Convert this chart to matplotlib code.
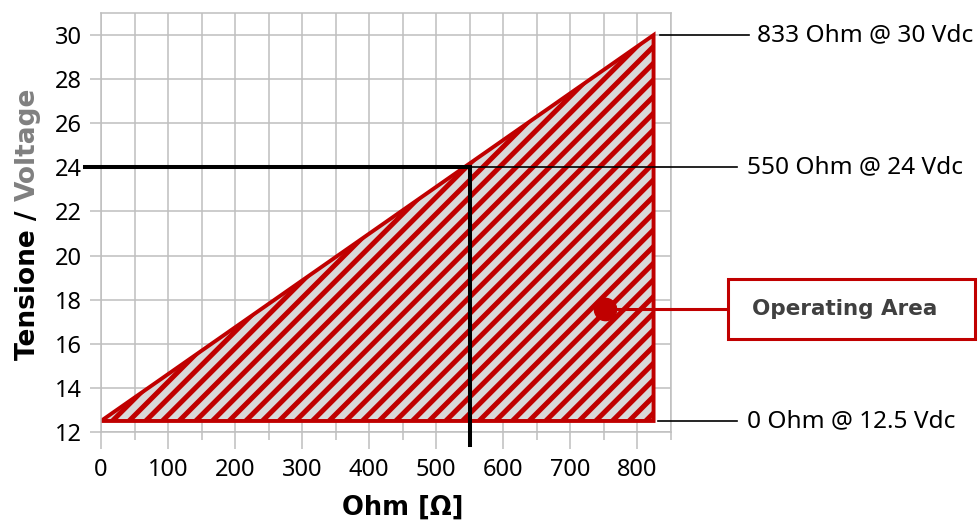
import numpy as np
import matplotlib.pyplot as plt
from matplotlib.patches import Rectangle

# operating area (ohm, volt)
ohm = [0, 824, 824]
volt = [12.5, 30, 12.5]

# marker lines at 24 Vdc
op_ohm = 550
op_volt = 24

# right-side labels
label_volt = [30, 24, 12.5]
label_text = ['833 Ohm @ 30 Vdc', '550 Ohm @ 24 Vdc', '0 Ohm @ 12.5 Vdc']

# "Operating Area" dot
dot_ohm = 752
dot_volt = 17.6

x_ticks = np.arange(0, 801, 100)
y_ticks = np.arange(12, 31, 2)

RED = '#c00000'
GRID = '#bfbfbf'
BOLD = ['DejaVu Sans']

plt.rcParams['font.family'] = ['Noto Sans', 'DejaVu Sans']
plt.rcParams['hatch.linewidth'] = 3.6

fig = plt.figure(figsize=(9.8, 5.25), dpi=100)
ax = fig.add_axes([101/980, 1-432/525, 570/980, 419/525])

ax.set_xlim(0, 850)
ax.set_ylim(12, 31)
ax.set_xticks(x_ticks)
ax.set_xticks(np.arange(50, 851, 100), minor=True)
ax.set_yticks(y_ticks)
ax.grid(True, which='both', color=GRID, lw=1.1)
ax.set_axisbelow(True)
for s in ax.spines.values():
  s.set_color(GRID)
  s.set_linewidth(1.1)
ax.tick_params(axis='x', which='major', length=12, color=GRID, width=1.1, labelsize=17, pad=7)
ax.tick_params(axis='x', which='minor', length=6, color=GRID, width=1.1)
ax.tick_params(axis='y', length=8, color=GRID, width=1.1, labelsize=17, pad=6)

ax.fill(ohm, volt, facecolor='#d9d9d9', edgecolor=RED, hatch='//', lw=2.8, zorder=2)

# thick black lines at the operating point
ax.plot([-24, op_ohm], [op_volt, op_volt], color='black', lw=2.9, clip_on=False, zorder=3)
ax.plot([op_ohm, op_ohm], [11.4, op_volt], color='black', lw=2.9, clip_on=False, zorder=3)

# leader lines and labels on the right
line_start = [834, op_ohm, 830]
line_end = [966, 949, 949]
text_x = [978, 964, 963]
for v, t, x0, x1, tx in zip(label_volt, label_text, line_start, line_end, text_x):
  ax.plot([x0, x1], [v, v], color='black', lw=1.2, clip_on=False, zorder=3)
  ax.text(tx, v, t, fontsize=17.6, va='center', ha='left', clip_on=False)

# operating area callout
ax.plot([dot_ohm], [dot_volt], marker='o', color=RED, markersize=16, zorder=4)
ax.plot([dot_ohm, 933], [dot_volt, dot_volt], color=RED, lw=2.2, clip_on=False, zorder=3)
fig.patches.append(Rectangle((728/980, 1-339/525), 247/980, 60/525, transform=fig.transFigure,
                             facecolor='white', edgecolor=RED, lw=2.2))
fig.text(845/980, 1-309/525, 'Operating Area', fontsize=15.5, fontweight='bold', color='#404040',
         family=BOLD, ha='center', va='center')

# axis labels
fig.text(403/980, 1-508/525, 'Ohm [Ω]', fontsize=18.5, fontweight='bold', family=BOLD,
         ha='center', va='center')
t1 = fig.text(28/980, 1-360/525, 'Tensione / ', fontsize=19, fontweight='bold', family=BOLD,
              rotation=90, ha='center', va='bottom')
fig.canvas.draw()
bb = t1.get_window_extent()
fig.text(28/980, bb.y1/fig.bbox.height, 'Voltage', fontsize=19, fontweight='bold', family=BOLD,
         color='#808080', rotation=90, ha='center', va='bottom')

plt.savefig('out.png', dpi=100)
